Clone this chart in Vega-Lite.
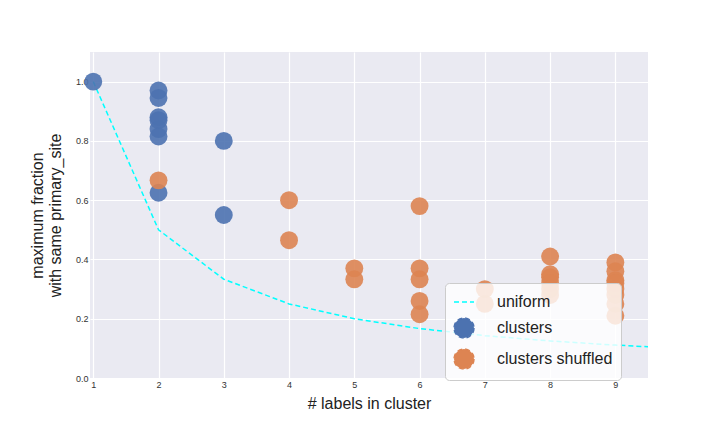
{"$schema":"https://vega.github.io/schema/vega-lite/v6.json","width":558,"height":326,"autosize":{"type":"none"},"padding":{"left":90,"top":52,"right":72,"bottom":54},
"config":{"view":{"fill":"#eaeaf2","stroke":null},"axis":{"domain":false,"ticks":false,"gridColor":"white","gridWidth":1.2,"labelFontSize":9,"labelColor":"#333","titleFontSize":16,"titleFontWeight":"normal","titleColor":"#222","labelFont":"Liberation Sans","titleFont":"Liberation Sans"}},
"layer":[
{"data":{"values":[{"k":1,"v":1},{"k":2,"v":0.5},{"k":3,"v":0.3333},{"k":4,"v":0.25},{"k":5,"v":0.2},{"k":6,"v":0.1667},{"k":7,"v":0.1429},{"k":8,"v":0.125},{"k":9,"v":0.1111},{"k":10,"v":0.1}]},
"transform":[{"calculate":"'uniform'","as":"series"}],
"mark":{"type":"line","strokeDash":[5,3],"strokeWidth":1.5,"clip":true},
"encoding":{"x":{"field":"k","type":"quantitative"},"y":{"field":"v","type":"quantitative"},"color":{"field":"series","type":"nominal"},"shape":{"field":"series","type":"nominal"}}},
{"data":{"values":[
{"series":"clusters","k":1,"v":1.0},
{"series":"clusters","k":2,"v":0.97},{"series":"clusters","k":2,"v":0.945},{"series":"clusters","k":2,"v":0.88},{"series":"clusters","k":2,"v":0.87},{"series":"clusters","k":2,"v":0.84},{"series":"clusters","k":2,"v":0.815},{"series":"clusters","k":2,"v":0.625},
{"series":"clusters","k":3,"v":0.8},{"series":"clusters","k":3,"v":0.55},
{"series":"clusters shuffled","k":2,"v":0.667},
{"series":"clusters shuffled","k":4,"v":0.6},{"series":"clusters shuffled","k":4,"v":0.465},
{"series":"clusters shuffled","k":5,"v":0.37},{"series":"clusters shuffled","k":5,"v":0.333},
{"series":"clusters shuffled","k":6,"v":0.58},{"series":"clusters shuffled","k":6,"v":0.37},{"series":"clusters shuffled","k":6,"v":0.333},{"series":"clusters shuffled","k":6,"v":0.26},{"series":"clusters shuffled","k":6,"v":0.215},
{"series":"clusters shuffled","k":7,"v":0.3},{"series":"clusters shuffled","k":7,"v":0.25},
{"series":"clusters shuffled","k":8,"v":0.41},{"series":"clusters shuffled","k":8,"v":0.35},{"series":"clusters shuffled","k":8,"v":0.34},{"series":"clusters shuffled","k":8,"v":0.32},{"series":"clusters shuffled","k":8,"v":0.3},{"series":"clusters shuffled","k":8,"v":0.28},
{"series":"clusters shuffled","k":9,"v":0.39},{"series":"clusters shuffled","k":9,"v":0.36},{"series":"clusters shuffled","k":9,"v":0.33},{"series":"clusters shuffled","k":9,"v":0.32},{"series":"clusters shuffled","k":9,"v":0.3},{"series":"clusters shuffled","k":9,"v":0.28},{"series":"clusters shuffled","k":9,"v":0.25},{"series":"clusters shuffled","k":9,"v":0.21}
]},
"mark":{"type":"point","filled":true,"size":320,"opacity":0.9},
"encoding":{"x":{"field":"k","type":"quantitative","scale":{"domain":[0.95,9.5],"nice":false,"zero":false},"axis":{"values":[1,2,3,4,5,6,7,8,9],"format":"d","title":"# labels in cluster","titlePadding":6}},
"y":{"field":"v","type":"quantitative","scale":{"domain":[0,1.1],"nice":false},"axis":{"values":[0,0.2,0.4,0.6,0.8,1.0],"format":".1f","title":["maximum fraction","with same primary_site"],"titlePadding":12}},
"color":{"field":"series","type":"nominal","scale":{"domain":["uniform","clusters","clusters shuffled"],"range":["cyan","#4c72b0","#dd8452"]},
"legend":{"title":null,"orient":"none","legendX":355,"legendY":231,"labelFontSize":16,"labelFont":"Liberation Sans","labelColor":"#222","labelOffset":22,"symbolSize":400,"symbolStrokeWidth":1.5,"symbolDash":[5,3],"rowPadding":5,"padding":8,"fillColor":"rgba(255,255,255,0.8)","strokeColor":"#ccc","cornerRadius":4,"labelLimit":300,"symbolOpacity":0.9}},
"shape":{"field":"series","type":"nominal","scale":{"domain":["uniform","clusters","clusters shuffled"],"range":["stroke","circle","circle"]}}}}
]}
